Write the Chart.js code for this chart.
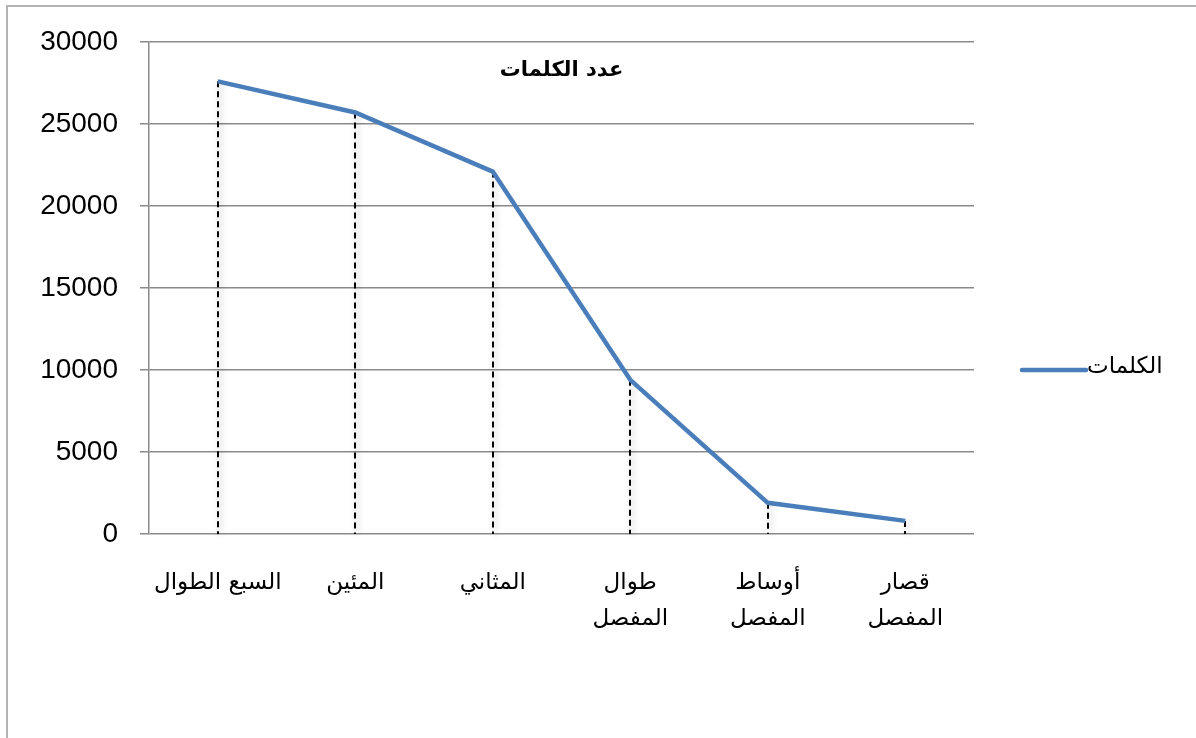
<!DOCTYPE html>
<html>
<head>
<meta charset="utf-8">
<script src="https://cdn.jsdelivr.net/npm/chart.js@4"></script>
<style>
  html, body { margin: 0; padding: 0; background: #fff; }
  #wrap { width: 1196px; height: 738px; position: relative; }
</style>
</head>
<body>
<div id="wrap"><canvas id="chart" width="1196" height="738"></canvas></div>
<script>
// data
const categories = [
    'السبع الطوال',
    'المئين',
    'المثاني',
    ['طوال', 'المفصل'],
    ['أوساط', 'المفصل'],
    ['قصار', 'المفصل']
];
const wordCounts = [27600, 25700, 22100, 9400, 1900, 800];
const seriesLabel = 'الكلمات';
const chartTitle = 'عدد الكلمات';
const yTicks = [0, 5000, 10000, 15000, 20000, 25000, 30000];

const lineColor = '#4a7ebb';
const gridColor = '#8a8a8a';
const arabicFont = "'DejaVu Sans', sans-serif";

// outer frame like the office chart border
const framePlugin = {
    id: 'frame',
    beforeDraw(chart) {
        const ctx = chart.ctx;
        ctx.save();
        ctx.strokeStyle = '#b4b4b4';
        ctx.lineWidth = 2;
        ctx.strokeRect(7, 6, 1400, 1000);
        ctx.restore();
    }
};

// dashed drop lines from every point down to the x axis
const dropLinePlugin = {
    id: 'dropLines',
    beforeDatasetsDraw(chart) {
        const ctx = chart.ctx;
        const meta = chart.getDatasetMeta(0);
        const yBase = chart.scales.y.getPixelForValue(0);
        ctx.save();
        ctx.strokeStyle = '#000';
        ctx.lineWidth = 2;
        ctx.setLineDash([6, 4]);
        ctx.shadowColor = 'rgba(0,0,0,0.35)';
        ctx.shadowBlur = 6;
        ctx.shadowOffsetX = 2;
        meta.data.forEach(pt => {
            const x = Math.round(pt.x);
            ctx.beginPath();
            ctx.moveTo(x, pt.y);
            ctx.lineTo(x, yBase);
            ctx.stroke();
        });
        ctx.restore();
    }
};

// title inside the plot and legend on the right
const textPlugin = {
    id: 'texts',
    afterDraw(chart) {
        const ctx = chart.ctx;
        const area = chart.chartArea;
        ctx.save();
        ctx.fillStyle = '#000';
        ctx.font = "bold 21px " + arabicFont;
        ctx.textAlign = 'center';
        ctx.textBaseline = 'middle';
        ctx.direction = 'rtl';
        ctx.fillText(chartTitle, (area.left + area.right) / 2, 71);

        // legend
        const ds = chart.data.datasets[0];
        const ly = 370;
        ctx.strokeStyle = ds.borderColor;
        ctx.lineWidth = 4.5;
        ctx.lineCap = 'round';
        ctx.beginPath();
        ctx.moveTo(1022, ly);
        ctx.lineTo(1086, ly);
        ctx.stroke();
        ctx.font = "23px " + arabicFont;
        ctx.textAlign = 'left';
        ctx.direction = 'ltr';
        ctx.fillStyle = '#000';
        ctx.fillText(ds.label, 1087, ly - 3);
        ctx.restore();
    }
};

new Chart(document.getElementById('chart'), {
    type: 'line',
    data: {
        labels: categories,
        datasets: [{
            label: seriesLabel,
            data: wordCounts,
            borderColor: lineColor,
            backgroundColor: lineColor,
            borderWidth: 4.5,
            tension: 0,
            pointRadius: 0,
            pointHoverRadius: 0,
            fill: false
        }]
    },
    options: {
        responsive: false,
        animation: false,
        layout: { padding: { left: 0, top: 42, right: 222, bottom: 0 } },
        plugins: {
            legend: { display: false },
            title: { display: false },
            tooltip: { enabled: false }
        },
        scales: {
            x: {
                type: 'category',
                offset: true,
                grid: { display: false, drawTicks: false },
                border: { display: false },
                ticks: {
                    color: '#000',
                    padding: 31,
                    maxRotation: 0,
                    autoSkip: false,
                    font: { family: arabicFont, size: 23, lineHeight: 1.56 }
                },
                afterFit(scale) { scale.height = 738 - 534; }
            },
            y: {
                min: 0,
                max: 30000,
                afterBuildTicks(scale) { scale.ticks = yTicks.map(v => ({ value: v })); },
                grid: { color: gridColor, lineWidth: 1.5, tickLength: 9, drawTicks: true },
                border: { display: true, color: gridColor, width: 1.5 },
                ticks: {
                    color: '#000',
                    padding: 22,
                    font: { family: "'Liberation Sans', Arial, sans-serif", size: 28 },
                    callback: v => String(v)
                },
                afterFit(scale) { scale.width = 149; }
            }
        }
    },
    plugins: [framePlugin, dropLinePlugin, textPlugin]
});
</script>
</body>
</html>
